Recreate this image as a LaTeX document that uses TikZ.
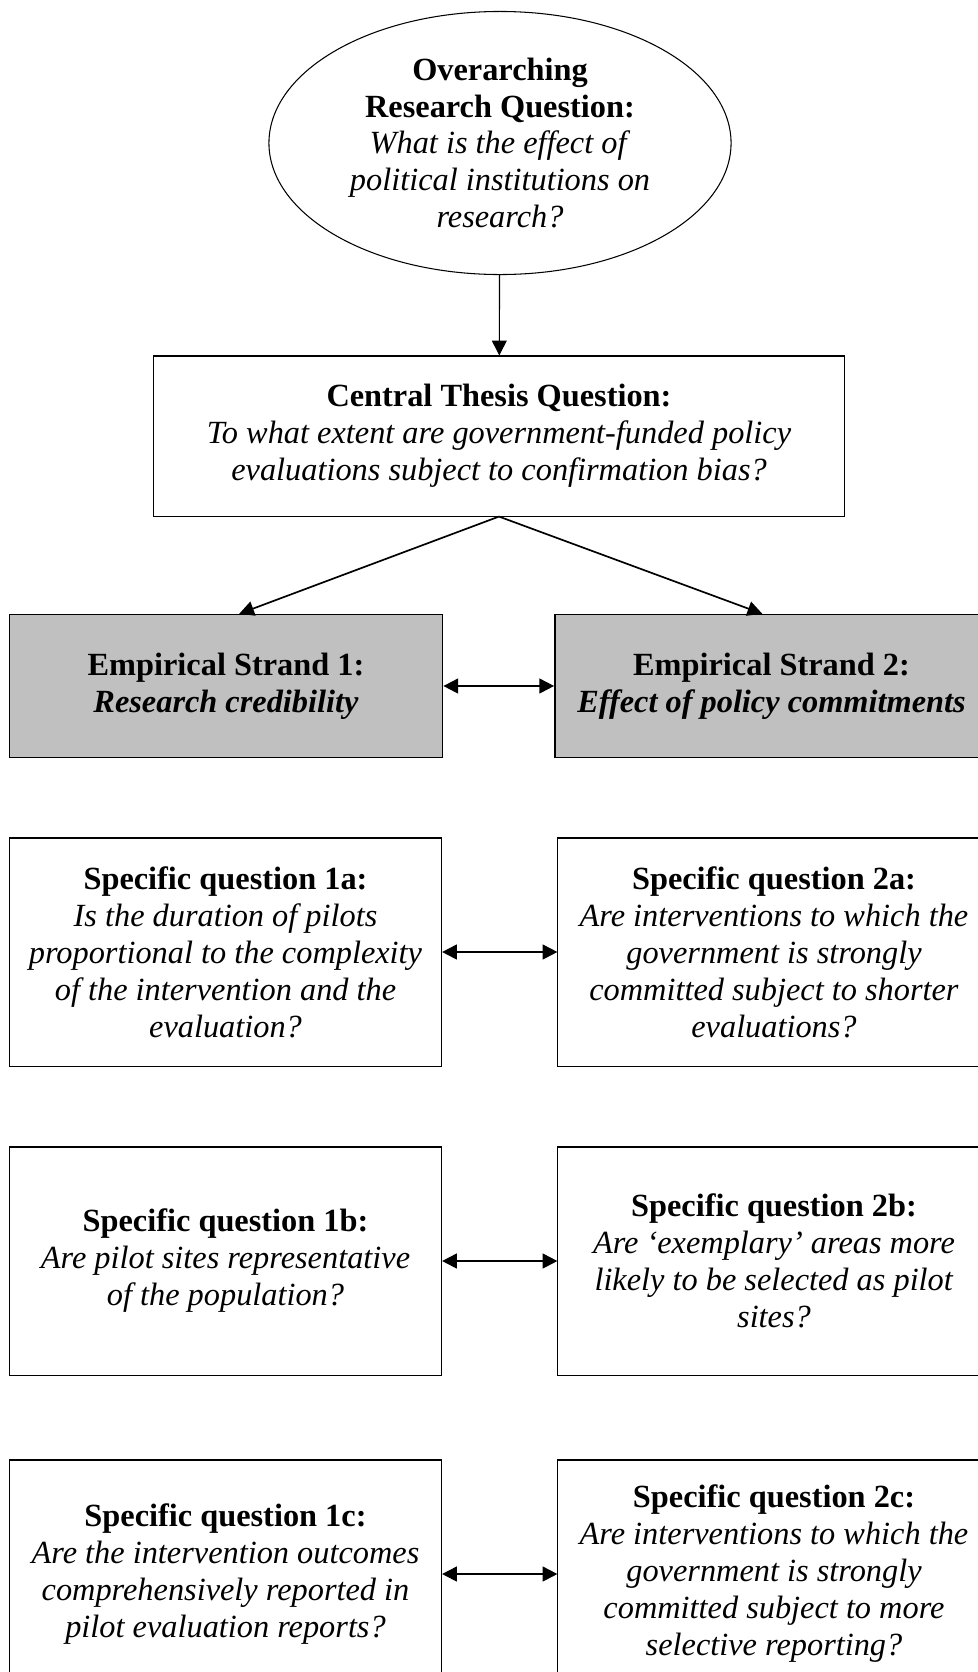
\documentclass[tikz,border=0pt]{standalone}
\usepackage{fontspec}
\setmainfont{Liberation Serif}
\usetikzlibrary{shapes.geometric,arrows.meta}
\definecolor{strandgray}{HTML}{C0C0C0}
\tikzset{
  qbox/.style={draw,line width=0.75pt,align=center,inner sep=0pt,
    minimum width=10.8cm,minimum height=5.7cm,font=\fontsize{23}{26.3}\selectfont},
  strandbox/.style={qbox,fill=strandgray,line width=1pt,minimum width=10.83cm,minimum height=3.575cm},
  tip/.style={-{Triangle[length=10.5pt,width=10.5pt]}},
  twotip/.style={{Triangle[length=10.5pt,width=10.5pt]}-{Triangle[length=10.5pt,width=10.5pt]}}
}

\begin{document}
\begin{tikzpicture}[x=0.025cm,y=-0.025cm]

% \draw[step=50,gray,very thin] (0,0) grid (978,1672);
        \useasboundingbox (0,0) rectangle (978,1672);

        \node (overarch) [ellipse,draw,line width=0.75pt,inner sep=0pt,minimum width=11.55cm,minimum height=6.575cm,align=center,font=\fontsize{23}{26.3}\selectfont] at (500,143)
            {\textbf{Overarching}\\\textbf{Research Question:}\\\textit{What is the effect of}\\\textit{political institutions on}\\\textit{research?}};
        \node (central) [qbox,minimum width=17.25cm,minimum height=4cm] at (499,436)
            {\textbf{Central Thesis Question:}\\\textit{To what extent are government-funded policy}\\\textit{evaluations subject to confirmation bias?}};

        \node (strand1) [strandbox] at (226,686) {\textbf{Empirical Strand 1:}\\\textbf{\textit{Research credibility}}};
        \node (strand2) [strandbox] at (771.5,686) {\textbf{Empirical Strand 2:}\\\textbf{\textit{Effect of policy commitments}}};

        \node (q1a) [qbox] at (225.5,952) {\textbf{Specific question 1a:}\\\textit{Is the duration of pilots}\\\textit{proportional to the complexity}\\\textit{of the intervention and the}\\\textit{evaluation?}};
        \node (q2a) [qbox] at (774,952) {\textbf{Specific question 2a:}\\\textit{Are interventions to which the}\\\textit{government is strongly}\\\textit{committed subject to shorter}\\\textit{evaluations?}};

        \node (q1b) [qbox] at (225.5,1261) {\textbf{Specific question 1b:}\\\textit{Are pilot sites representative}\\\textit{of the population?}};
        \node (q2b) [qbox] at (774,1261) {\textbf{Specific question 2b:}\\\textit{Are ‘exemplary’ areas more}\\\textit{likely to be selected as pilot}\\\textit{sites?}};

        \node (q1c) [qbox] at (225.5,1574) {\textbf{Specific question 1c:}\\\textit{Are the intervention outcomes}\\\textit{comprehensively reported in}\\\textit{pilot evaluation reports?}};
        \node (q2c) [qbox] at (774,1574) {\textbf{Specific question 2c:}\\\textit{Are interventions to which the}\\\textit{government is strongly}\\\textit{committed subject to more}\\\textit{selective reporting?}};

        \draw [tip,line width=0.8pt] (overarch) -- (central);
        \draw [tip,line width=1.2pt] (central.south) -- ([xshift=0.33cm]strand1.north);
        \draw [tip,line width=1.2pt] (central.south) -- ([xshift=-0.23cm]strand2.north);

        \draw [twotip,line width=1.4pt] (strand1) -- (strand2);
        \draw [twotip,line width=1.4pt] (q1a) -- (q2a);
        \draw [twotip,line width=1.4pt] (q1b) -- (q2b);
        \draw [twotip,line width=1.4pt] (q1c) -- (q2c);

    \end{tikzpicture}
\end{document}
